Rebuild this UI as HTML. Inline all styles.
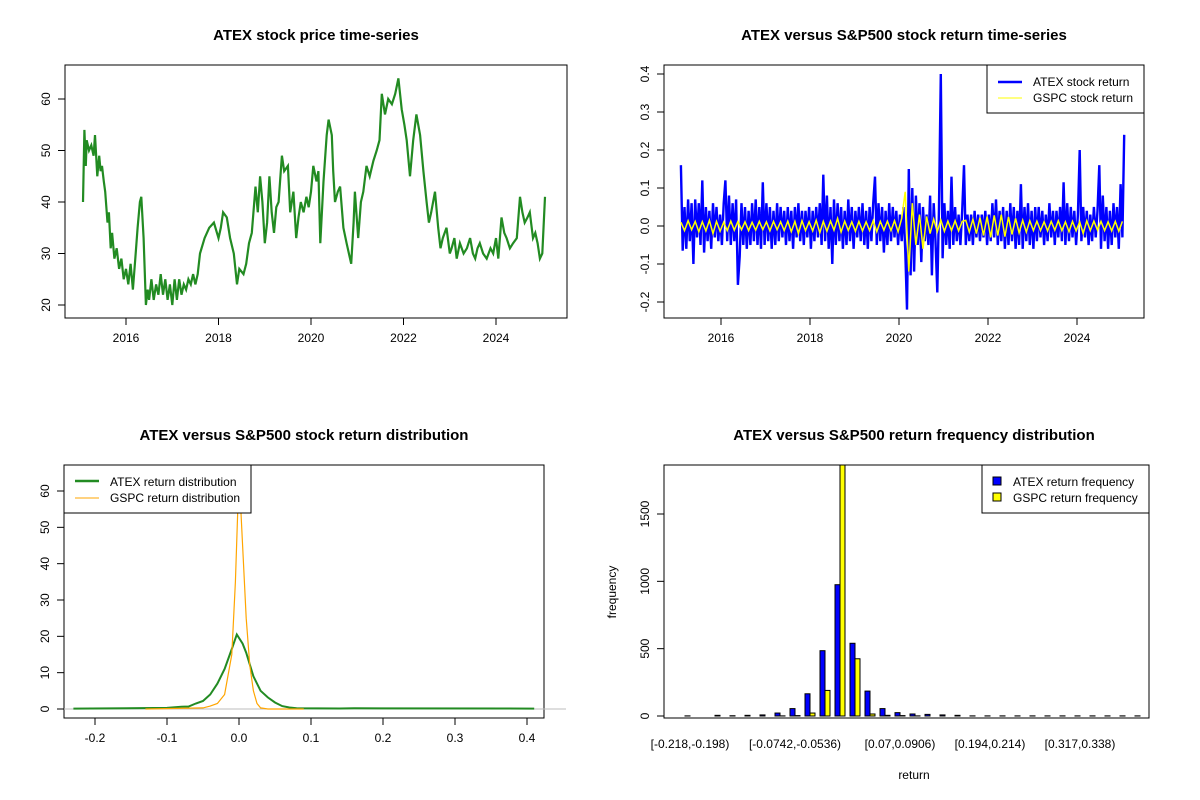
<!DOCTYPE html>
<html><head><meta charset="utf-8"><style>
html,body{margin:0;padding:0;background:#fff}
svg{display:block;font-family:"Liberation Sans",Arial,sans-serif}
.t{font-size:15px;font-weight:bold;text-anchor:middle}
.tk{font-size:12px;fill:#000}
</style></head><body>
<svg id="s" width="1200" height="800" viewBox="0 0 1200 800">
<rect width="1200" height="800" fill="#fff"/>
<text class="t" x="316" y="40">ATEX stock price time-series</text>
<text class="t" x="904" y="40">ATEX versus S&amp;P500 stock return time-series</text>
<text class="t" x="304" y="440">ATEX versus S&amp;P500 stock return distribution</text>
<text class="t" x="914" y="440">ATEX versus S&amp;P500 return frequency distribution</text>
<g id="g1"></g>
<g id="g2"></g>
<g id="g3"></g>
<g id="g4"></g>
</svg>
<script>
// ---- data ----
const priceYears=[2015.07,2015.1,2015.13,2015.15,2015.2,2015.25,2015.3,2015.33,2015.38,2015.42,2015.45,2015.48,2015.52,2015.55,2015.6,2015.63,2015.67,2015.7,2015.75,2015.8,2015.85,2015.9,2015.95,2016.0,2016.05,2016.1,2016.15,2016.2,2016.25,2016.3,2016.33,2016.38,2016.43,2016.47,2016.5,2016.55,2016.6,2016.65,2016.7,2016.75,2016.8,2016.85,2016.9,2016.95,2017.0,2017.05,2017.1,2017.15,2017.2,2017.25,2017.3,2017.35,2017.4,2017.45,2017.5,2017.55,2017.6,2017.7,2017.8,2017.9,2018.0,2018.05,2018.1,2018.18,2018.25,2018.33,2018.4,2018.45,2018.54,2018.6,2018.66,2018.72,2018.8,2018.85,2018.9,2018.95,2019.0,2019.05,2019.1,2019.15,2019.2,2019.25,2019.3,2019.37,2019.42,2019.5,2019.55,2019.62,2019.68,2019.73,2019.78,2019.84,2019.9,2019.95,2020.0,2020.05,2020.12,2020.16,2020.2,2020.27,2020.34,2020.38,2020.45,2020.48,2020.52,2020.58,2020.63,2020.7,2020.77,2020.82,2020.87,2020.92,2020.95,2021.02,2021.08,2021.13,2021.2,2021.27,2021.35,2021.42,2021.48,2021.53,2021.6,2021.67,2021.75,2021.82,2021.89,2021.96,2022.02,2022.07,2022.14,2022.21,2022.28,2022.36,2022.43,2022.5,2022.55,2022.6,2022.68,2022.75,2022.8,2022.85,2022.93,2023.0,2023.04,2023.1,2023.15,2023.22,2023.3,2023.37,2023.44,2023.5,2023.55,2023.6,2023.65,2023.72,2023.8,2023.88,2023.94,2024.0,2024.05,2024.12,2024.18,2024.23,2024.3,2024.37,2024.45,2024.52,2024.57,2024.62,2024.68,2024.73,2024.8,2024.85,2024.9,2024.95,2025.0,2025.06,2025.08];
const priceValues=[40,54,47,52,50,51,49,53,45,49,46,47,44,42,36,38,31,34,29,31,27,29,25,27,24,28,23,29,35,40,41,33,20,23,21,25,21,24,22,26,22,25,21,24,20,25,21,25,22,24,23,25,24,26,24,26,30,33,35,36,33,35,38,37,33,30,24,27,26,28,32,34,43,38,45,40,32,36,45,38,34,39,40,49,46,47,38,42,33,37,40,38,41,39,42,47,44,46,32,44,53,56,53,46,40,42,43,35,32,30,28,36,42,33,40,42,47,45,48,50,52,61,57,60,59,61,64,58,55,52,45,52,57,53,46,40,36,38,42,35,31,33,35,30,31,33,29,32,30,31,33,30,29,31,32,30,29,31,30,33,29,37,34,33,31,32,33,41,38,36,37,38,33,34,32,29,30,41];

const retStart=2015.10, retStep=0.04;
const atexReturns=[0.16,-0.065,0.05,-0.06,0.07,-0.04,0.06,-0.1,0.07,-0.03,
0.06,-0.05,0.12,-0.07,0.05,-0.04,0.04,-0.06,0.06,-0.03,
0.05,-0.04,0.03,-0.05,0.06,0.12,-0.04,0.08,-0.05,0.06,
-0.04,0.07,-0.155,-0.08,0.06,-0.05,0.05,-0.06,0.04,-0.05,
0.06,-0.04,0.07,-0.05,0.05,-0.06,0.115,-0.05,0.06,-0.04,
0.05,-0.06,0.04,-0.05,0.06,-0.04,0.05,-0.03,0.04,-0.05,
0.05,-0.04,0.04,-0.06,0.05,-0.03,0.06,-0.04,0.04,-0.05,
0.04,-0.03,0.05,-0.06,0.04,-0.04,0.05,-0.03,0.06,-0.05,
0.135,-0.04,0.08,-0.06,0.05,-0.1,0.07,-0.05,0.06,-0.04,
0.05,-0.06,0.04,-0.05,0.07,-0.04,0.05,-0.06,0.04,-0.03,
0.05,-0.04,0.06,-0.05,0.04,-0.06,0.05,-0.04,0.06,0.13,
-0.05,0.06,-0.04,0.05,-0.07,0.04,-0.05,0.06,-0.04,0.05,
-0.03,0.04,-0.05,0.03,-0.04,0.05,-0.06,-0.22,0.15,-0.13,
0.1,-0.12,0.08,-0.05,0.06,-0.095,0.05,-0.04,0.03,-0.05,
0.08,-0.13,0.06,-0.04,-0.175,0.05,0.40,-0.085,0.06,-0.05,
0.04,-0.06,0.13,-0.05,0.05,-0.04,0.03,-0.05,0.04,0.16,
-0.05,0.03,-0.04,0.03,-0.05,0.04,-0.03,0.03,-0.04,0.03,
-0.03,0.04,-0.05,0.03,-0.04,0.06,-0.03,0.07,-0.05,0.04,
-0.04,0.05,-0.06,0.04,-0.05,0.06,-0.04,0.05,-0.06,0.04,
-0.05,0.11,-0.06,0.05,-0.04,0.06,-0.05,0.04,-0.06,0.05,
-0.04,0.05,-0.03,0.04,-0.05,0.03,-0.04,0.06,-0.03,0.04,
-0.05,0.04,-0.03,0.05,-0.04,0.115,-0.05,0.06,-0.04,0.05,
-0.03,0.04,-0.05,0.03,0.2,-0.04,0.05,-0.03,0.04,-0.05,
0.03,-0.04,0.05,-0.03,0.04,0.16,-0.06,0.08,-0.04,0.05,
-0.06,0.04,-0.05,0.06,-0.03,0.05,-0.06,0.11,-0.03,0.24];
const gspcStep=0.08;
const gspcReturns=[0.01,-0.012,0.014,-0.01,0.012,-0.015,0.011,-0.013,0.015,-0.02,
0.012,-0.014,0.01,-0.012,0.013,-0.011,0.012,-0.01,0.011,-0.012,
0.01,-0.011,0.012,-0.01,0.011,-0.013,0.012,-0.01,0.011,-0.012,
0.013,-0.015,0.012,-0.02,0.014,-0.012,0.011,-0.013,0.015,-0.018,
0.012,-0.014,0.013,-0.011,0.02,-0.016,0.013,-0.012,0.011,-0.014,
0.012,-0.013,0.011,-0.012,0.014,-0.015,0.012,-0.011,0.013,-0.012,
0.014,-0.015,0.02,0.09,-0.12,0.06,-0.05,0.03,-0.06,0.025,
-0.02,0.018,-0.015,0.016,-0.014,0.013,-0.012,0.014,-0.013,0.012,
0.015,-0.016,0.018,-0.02,0.022,-0.025,0.025,-0.03,0.028,-0.025,
0.03,-0.028,0.024,-0.022,0.02,-0.018,0.015,-0.016,0.014,-0.012,
0.013,-0.012,0.011,-0.013,0.012,-0.011,0.014,-0.012,0.011,-0.015,
0.012,-0.013,0.011,-0.02,0.014,-0.012,0.013,-0.011,0.012,-0.012,
0.011,-0.013,0.012,-0.014,0.012];

const atexDensX=[-0.23,-0.1,-0.08,-0.07,-0.06,-0.05,-0.04,-0.03,-0.02,-0.01,-0.003,0.005,0.01,0.02,0.03,0.04,0.05,0.06,0.07,0.08,0.14,0.16,0.41];
const atexDensY=[0.1,0.3,0.6,0.7,1.5,2.2,4,7,11,16.5,20.5,18,15.5,9,5,3.2,1.8,0.8,0.4,0.2,0.15,0.2,0.1];
const gspcDensX=[-0.13,-0.05,-0.04,-0.03,-0.02,-0.01,-0.005,0,0.005,0.01,0.015,0.02,0.025,0.03,0.04,0.09];
const gspcDensY=[0,0.3,0.8,1.5,4,15,35,65,45,25,12,5,1.5,0.3,0,0];

const atexFreq=[1,0,5,2,5,8,22,55,165,485,975,540,185,55,25,15,12,8,5,1,1,1,1,1,1,1,1,1,1,1,1];
const gspcFreq=[0,0,0,0,0,0,1,3,22,190,1950,425,15,5,3,1,0,0,0,0,0,0,0,0,0,0,0,0,0,0,0];
const binLabelIdx=[0,7,14,20,26];
const binLabels=["[-0.218,-0.198)","[-0.0742,-0.0536)","[0.07,0.0906)","[0.194,0.214)","[0.317,0.338)"];
const yearTicks=[2016,2018,2020,2022,2024];
const priceTicks=[20,30,40,50,60];
const retTicks=[-0.2,-0.1,0,0.1,0.2,0.3,0.4];
const densXTicks=[-0.2,-0.1,0,0.1,0.2,0.3,0.4];
const densYTicks=[0,10,20,30,40,50,60];
const freqTicks=[0,500,1000,1500];

// ---- helpers ----
const NS="http://www.w3.org/2000/svg";
function mk(p,tag,a,txt){const e=document.createElementNS(NS,tag);for(const k in a)e.setAttribute(k,a[k]);if(txt!=null)e.textContent=txt;p.appendChild(e);return e;}
function lin(d0,d1,r0,r1){return v=>r0+(v-d0)*(r1-r0)/(d1-d0);}
function box(g,x0,y0,x1,y1){const r=mk(g,'rect',{x:x0,y:y0,width:x1-x0,height:y1-y0,fill:'none',stroke:'#000','stroke-width':1});

}
function xAxis(g,ticks,sx,y,fmt){const first=sx(ticks[0]),last=sx(ticks[ticks.length-1]);
const l=mk(g,'line',{x1:first,x2:last,y1:y,y2:y,stroke:'#000'});


ticks.forEach(t=>{const x=sx(t);mk(g,'line',{x1:x,x2:x,y1:y,y2:y+7,stroke:'#000'});
const tx=mk(g,'text',{class:'tk',x:x,y:y+24,'text-anchor':'middle'},fmt(t));

});}
function yAxis(g,ticks,sy,x,fmt){const l=mk(g,'line',{x1:x,x2:x,y1:sy(ticks[0]),y2:sy(ticks[ticks.length-1]),stroke:'#000'});


ticks.forEach(t=>{const y=sy(t);mk(g,'line',{x1:x,x2:x-7,y1:y,y2:y,stroke:'#000'});
const tx=mk(g,'text',{class:'tk',x:x-15,y:y,'text-anchor':'middle',transform:`rotate(-90 ${x-15} ${y})`},fmt(t));

});}
function poly(g,pts,color,w,name){const p=mk(g,'polyline',{points:pts.map(q=>q[0].toFixed(1)+','+q[1].toFixed(1)).join(' '),fill:'none',stroke:color,'stroke-width':w,'stroke-linejoin':'miter'});

return p;}

// ---- panel 1: price ----
{const g=document.getElementById('g1');
const sx=lin(2016,2024,126,496), sy=lin(20,60,305,99);
box(g,65,65,567,318);
xAxis(g,yearTicks,sx,318,String);
yAxis(g,priceTicks,sy,65,String);
poly(g,priceYears.map((y,i)=>[sx(y),sy(priceValues[i])]),'#228B22',2.2,'atex-price-line');}

// ---- panel 2: returns ----
{const g=document.getElementById('g2');
const sx=lin(2016,2024,721,1077), sy=lin(-0.2,0.4,302,74);
box(g,664,65,1144,318);
xAxis(g,yearTicks,sx,318,String);
yAxis(g,retTicks,sy,664,v=>v.toFixed(1));
poly(g,atexReturns.map((v,i)=>[sx(retStart+i*retStep),sy(v)]),'#0000FF',2.4,'atex-return-line');
poly(g,gspcReturns.map((v,i)=>[sx(retStart+i*gspcStep),sy(v)]),'#FFFF00',1.5,'gspc-return-line');
const lg=mk(g,'g',{});


mk(lg,'rect',{x:987,y:65,width:157,height:48,fill:'#fff',stroke:'#000'});
mk(lg,'line',{x1:998,x2:1022,y1:82,y2:82,stroke:'#0000FF','stroke-width':2.5});
mk(lg,'line',{x1:998,x2:1022,y1:98,y2:98,stroke:'#FFFF00','stroke-width':1});
mk(lg,'text',{class:'tk',x:1033,y:86},'ATEX stock return');
mk(lg,'text',{class:'tk',x:1033,y:102},'GSPC stock return');}

// ---- panel 3: density ----
{const g=document.getElementById('g3');
const sx=lin(-0.2,0.4,95,527), sy=lin(0,60,709,491);
box(g,64,465,544,718);
xAxis(g,densXTicks,sx,718,v=>v.toFixed(1));
yAxis(g,densYTicks,sy,64,String);
const z=mk(g,'line',{x1:64,x2:566,y1:sy(0),y2:sy(0),stroke:'#bebebe'});


poly(g,atexDensX.map((x,i)=>[sx(x),sy(atexDensY[i])]),'#228B22',2,'atex-density-line');
poly(g,gspcDensX.map((x,i)=>[sx(x),sy(gspcDensY[i])]),'#FFA500',1.2,'gspc-density-line');
const lg=mk(g,'g',{});


mk(lg,'rect',{x:64,y:465,width:187,height:48,fill:'#fff',stroke:'#000'});
mk(lg,'line',{x1:75,x2:99,y1:481,y2:481,stroke:'#228B22','stroke-width':2.5});
mk(lg,'line',{x1:75,x2:99,y1:498,y2:498,stroke:'#FFA500','stroke-width':1});
mk(lg,'text',{class:'tk',x:110,y:486},'ATEX return distribution');
mk(lg,'text',{class:'tk',x:110,y:502},'GSPC return distribution');}

// ---- panel 4: histogram ----
{const g=document.getElementById('g4');
const unit=5, ux=u=>680+u*unit;
const sy=lin(0,1500,716,514);
const clip=mk(g,'clipPath',{id:'hc'});mk(clip,'rect',{x:664,y:465,width:485,height:253});
yAxis(g,freqTicks,sy,664,String);
const bars=mk(g,'g',{'clip-path':'url(#hc)'});
atexFreq.forEach((v,k)=>{const x=ux(3*k+1);
const r=mk(bars,'rect',{x:x,y:sy(v),width:unit,height:sy(0)-sy(v),fill:'#0000FF',stroke:'#000','stroke-width':1});


const v2=gspcFreq[k];
const r2=mk(bars,'rect',{x:x+unit,y:sy(v2),width:unit,height:sy(0)-sy(v2),fill:'#FFFF00',stroke:'#000','stroke-width':1});

});
binLabelIdx.forEach((k,i)=>{const t=mk(g,'text',{class:'tk',x:ux(3*k+2),y:748,'text-anchor':'middle'},binLabels[i]);

});
box(g,664,465,1149,718);
const xl=mk(g,'text',{class:'tk',x:914,y:779,'text-anchor':'middle'},'return');


const yl=mk(g,'text',{class:'tk',x:616,y:592,'text-anchor':'middle',transform:'rotate(-90 616 592)'},'frequency');


const lg=mk(g,'g',{});


mk(lg,'rect',{x:982,y:465,width:167,height:48,fill:'#fff',stroke:'#000'});
mk(lg,'rect',{x:993,y:477,width:8,height:8,fill:'#0000FF',stroke:'#000'});
mk(lg,'rect',{x:993,y:493,width:8,height:8,fill:'#FFFF00',stroke:'#000'});
mk(lg,'text',{class:'tk',x:1013,y:486},'ATEX return frequency');
mk(lg,'text',{class:'tk',x:1013,y:502},'GSPC return frequency');}
</script>
</body></html>
